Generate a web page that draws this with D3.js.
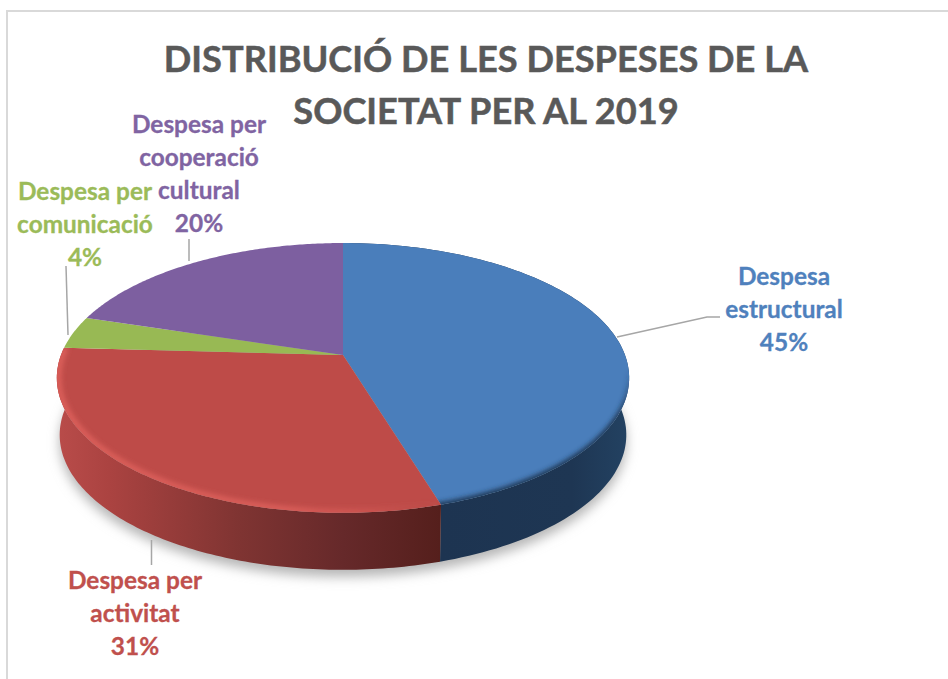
<!DOCTYPE html>
<html><head><meta charset="utf-8">
<script src="https://cdn.jsdelivr.net/npm/d3@7/dist/d3.min.js"></script>
<style>html,body{margin:0;padding:0;background:#fff}svg{display:block}text{font-family:Lato,"Open Sans",sans-serif;font-weight:700}</style>
</head><body><svg id="c" width="948" height="679"></svg>
<script>
const categories=["Despesa estructural","Despesa per activitat","Despesa per comunicació","Despesa per cooperació cultural"];
const values=[45.3,30.6,3.9,20.2];
const colors=["#4a7ebb","#be4b48","#98b954","#7d5fa0"];
const labelColors=["#4f81bd","#c0504d","#9bbb59","#8064a2"];
const titleLines=["DISTRIBUCIÓ DE LES DESPESES DE LA","SOCIETAT PER AL 2019"];
const labelLines=[["Despesa","estructural","45%"],["Despesa per","activitat","31%"],["Despesa per","comunicació","4%"],["Despesa per","cooperació","cultural","20%"]];
const labelAnchors=[[784,285],[135,589],[85,200],[199,133]];
const leaders=[[[617,337],[707,317],[720,317]],[[151.5,540],[151.5,565]],[[66,266],[68,335]],[[189,239],[189,261]]];

const svg=d3.select("#c");
const defs=svg.append("defs");
svg.append("rect").attr("x",7).attr("y",11).attr("width",960).attr("height",680).attr("fill","#fff").attr("stroke","#d9d9d9").attr("stroke-width",2);

const blur=(id,s)=>defs.append("filter").attr("id",id).attr("x","-20%").attr("y","-20%").attr("width","140%").attr("height","140%").append("feGaussianBlur").attr("stdDeviation",s);
blur("shadow",6);blur("soft",2.4);

// Perspective disc: apex at (cx,cy), far side compressed by k
const cx=343,cy=355,R=282,S=131,k=0.17,depth=57,bottomScale=0.99;
const pt=(a,f=1,dy=0,sx=1)=>{const u=Math.sin(a)*f,v=Math.cos(a)*f,w=1+k*v;return [cx+sx*R*u/w,cy-S*v/w+dy];};
const pie=d3.pie().sort(null).value(d=>d)(values);
const steps=d3.range(0,121).map(i=>i/120);
const arcPts=(a0,a1,f=1,dy=0,sx=1)=>steps.map(t=>pt(a0+(a1-a0)*t,f,dy,sx));
const line=d3.line();
const ring=d3.range(0,241).map(i=>pt(i/240*2*Math.PI,1,depth,bottomScale));

// soft shadow under the disc
svg.append("path").attr("d",line(ring)+"Z").attr("transform","translate(0,7)").attr("fill","#b5b5b5").attr("filter","url(#shadow)");

// side walls
const grad=(id,stops,vertical)=>{const g=defs.append("linearGradient").attr("id",id).attr("gradientUnits","userSpaceOnUse");
  if(vertical)g.attr("x1",0).attr("x2",0).attr("y1",370).attr("y2",420);else g.attr("x1",57).attr("x2",629).attr("y1",0).attr("y2",0);
  stops.forEach(([o,c,op])=>g.append("stop").attr("offset",o).attr("stop-color",c).attr("stop-opacity",op===undefined?1:op));};
grad("side0",[[0.67,"#1d3451"],[0.9,"#1e3653"],[1,"#234262"]]);
grad("side1",[[0,"#b94c4a"],[0.09,"#ab4341"],[0.32,"#7f3432"],[0.5,"#66292a"],[0.67,"#551f1c"]]);
grad("rim1",[[0,"#e0625d",0.9],[0.4,"#e0625d",0.85],[0.55,"#d85c57",0.5],[0.67,"#c0504d",0]]);
grad("rim0",[[0,"#1d3451",0],[1,"#1d3451",1]],true);
const sideFill={0:"url(#side0)",1:"url(#side1)"};
[0,1].forEach(i=>{const s=pie[i];
  const p=arcPts(s.startAngle,s.endAngle).concat(arcPts(s.endAngle,s.startAngle,1,depth,bottomScale));
  svg.append("path").attr("d",line(p)+"Z").attr("fill",sideFill[i]);
});

// top face with soft bevel
pie.forEach((s,i)=>{
  const poly=[[cx,cy]].concat(arcPts(s.startAngle,s.endAngle));
  const d=line(poly)+"Z";
  defs.append("clipPath").attr("id","clip"+i).append("path").attr("d",d);
  svg.append("path").attr("d",d).attr("fill",colors[i]);
  const g=svg.append("g").attr("clip-path",`url(#clip${i})`);
  if(i===0){
    g.append("path").attr("d",line(arcPts(Math.PI*0.5,s.endAngle+0.1,1.005))).attr("fill","none").attr("stroke","url(#rim0)").attr("stroke-width",7).attr("filter","url(#soft)");
  }
  if(i===1){
    g.append("path").attr("d",line(arcPts(s.startAngle,s.endAngle,0.995))).attr("fill","none").attr("stroke","url(#rim1)").attr("stroke-width",6).attr("filter","url(#soft)");
  }
});

leaders.forEach(l=>svg.append("path").attr("d",line(l)).attr("fill","none").attr("stroke","#a6a6a6").attr("stroke-width",1.5));

titleLines.forEach((t,i)=>svg.append("text").attr("x",486).attr("y",[72,124][i]).attr("text-anchor","middle").attr("font-size",36.2).attr("fill","#595959").attr("stroke","#595959").attr("stroke-width",0.5).text(t));
labelLines.forEach((ls,i)=>ls.forEach((t,j)=>svg.append("text").attr("x",labelAnchors[i][0]).attr("y",labelAnchors[i][1]+j*33).attr("text-anchor","middle").attr("font-size",24.4).attr("fill",labelColors[i]).attr("stroke",labelColors[i]).attr("stroke-width",0.3).text(t)));
</script></body></html>
